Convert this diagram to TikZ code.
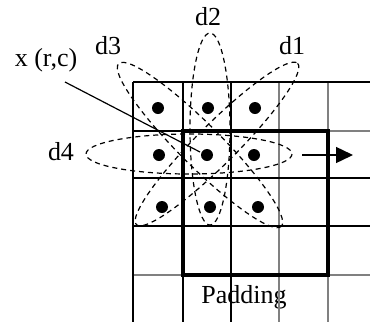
\documentclass[tikz,border=0pt]{standalone}
\usepackage{fontspec}
\setmainfont{Liberation Serif}
\usetikzlibrary{arrows.meta}
\begin{document}
\begin{tikzpicture}[x=1pt,y=-1pt,
  lbl/.style={font=\fontsize{26}{30}\selectfont, inner sep=0pt, text=black},
  dot/.style={circle, fill=black, inner sep=0pt, minimum size=12pt},
  gridk/.style={draw=black, line width=1.6pt},
  gridg/.style={draw=black!50, line width=2pt},
  dsh/.style={draw=black, line width=1.2pt, dash pattern=on 5pt off 4pt},
  thickbox/.style={draw=black, line width=4pt}]
\useasboundingbox (0,0) rectangle (370,322);
% labels
\node[lbl] (pad) at (244,297) {Padding};
\node[lbl] (ld2) at (208,17) {d2};
\node[lbl] (ld1) at (292,46) {d1};
\node[lbl] (ld3) at (108,46) {d3};
\node[lbl] (lx) at (46,60) {x (r,c)};
\node[lbl] (ld4) at (61,152) {d4};
% grid
\draw[gridg] (279,82) -- (279,322);
\draw[gridg] (328,82) -- (328,322);
\draw[gridg] (133,275) -- (370,275);
\draw[gridg] (328,131) -- (370,131);
\draw[gridk] (133,131) -- (183,131);
\draw[gridk] (133,82) -- (370,82);
\draw[gridk] (133,178) -- (370,178);
\draw[gridk] (133,226) -- (370,226);
\draw[gridk] (183,82) -- (183,322);
\draw[gridk] (231,82) -- (231,322);
\draw[draw=black, line width=2.2pt] (133,82) -- (133,322);
\draw[thickbox] (183,131) rectangle (328,275);
% dots
\node[dot] (c11) at (158,108) {};
\node[dot] (c12) at (208,108) {};
\node[dot] (c13) at (255,108) {};
\node[dot] (c21) at (159,155) {};
\node[dot] (c22) at (207,155) {};
\node[dot] (c23) at (254,155) {};
\node[dot] (c31) at (162,207) {};
\node[dot] (c32) at (210,207) {};
\node[dot] (c33) at (258,207) {};
% ellipses
\draw[dsh] (189,154) ellipse [x radius=103, y radius=20];
\draw[dsh] (210,129) ellipse [x radius=20, y radius=96];
\draw[dsh, rotate around={45:(217,144)}] (217,144) ellipse [x radius=114, y radius=20];
\draw[dsh, rotate around={-45:(200,145)}] (200,145) ellipse [x radius=115, y radius=21];
% leader and arrow
\coordinate (ls) at (65,82);
\coordinate (le) at (200,152);
\draw[line width=1.2pt] (ls) -- (le);
\coordinate (as) at (302,155);
\coordinate (ae) at (353,155);
\draw[line width=1.4pt, -{Triangle[length=17pt,width=16pt]}] (as) -- (ae);
\end{tikzpicture}
\end{document}
